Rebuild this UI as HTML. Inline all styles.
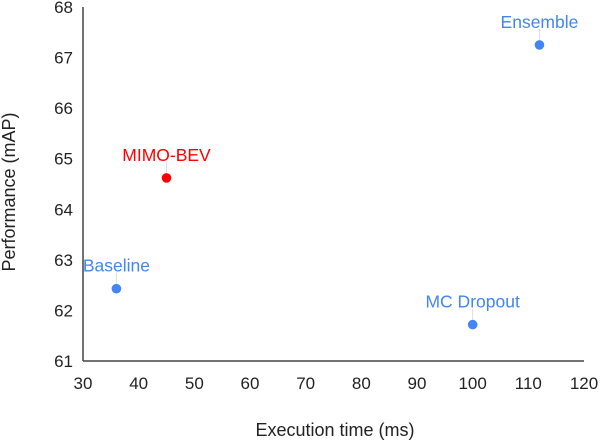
<!DOCTYPE html>
<html><head><meta charset="utf-8"><style>
body{margin:0;background:#fff;}
svg{font-family:"Liberation Sans",sans-serif;display:block;}
</style></head><body>
<svg id="chart" width="600" height="440"></svg>
<script>
const xTicks=[30,40,50,60,70,80,90,100,110,120];
const yTicks=[61,62,63,64,65,66,67,68];
const names=["Baseline","MIMO-BEV","MC Dropout","Ensemble"];
const timesMs=[36,45,100,112];
const mapValues=[62.43,64.62,61.72,67.25];
const colors=["#4285f4","#ff0000","#4285f4","#4285f4"];
const NS="http://www.w3.org/2000/svg";
const svg=document.getElementById('chart');
const X0=83,X1=584,Y0=361,Y1=7;
const xs=v=>X0+(v-30)/(120-30)*(X1-X0);
const ys=v=>Y0-(v-61)/(68-61)*(Y0-Y1);
function mk(tag,attrs,text){const e=document.createElementNS(NS,tag);for(const k in attrs)e.setAttribute(k,attrs[k]);if(text!==undefined)e.textContent=text;svg.appendChild(e);return e;}
let e;
e=mk('line',{x1:X0,y1:Y1,x2:X0,y2:Y0,stroke:'#444','stroke-width':1.5});


e=mk('line',{x1:X0,y1:Y0,x2:X1,y2:Y0,stroke:'#444','stroke-width':1.5});


xTicks.forEach(t=>{e=mk('text',{x:xs(t),y:389,'text-anchor':'middle','font-size':17,fill:'#222'},t);

});
yTicks.forEach(t=>{e=mk('text',{x:73,y:ys(t)+6,'text-anchor':'end','font-size':17,fill:'#222'},t);

});
e=mk('text',{x:335,y:436,'text-anchor':'middle','font-size':18,fill:'#222'},'Execution time (ms)');


e=mk('text',{x:0,y:0,'text-anchor':'middle','font-size':18,fill:'#222',transform:'translate(15,192) rotate(-90)'},'Performance (mAP)');


names.forEach((n,i)=>{
 const cx=xs(timesMs[i]),cy=ys(mapValues[i]);
 e=mk('line',{x1:cx,y1:cy-5,x2:cx,y2:cy-16,stroke:'#ddd','stroke-width':1});
 
 
 e=mk('circle',{cx:cx,cy:cy,r:4.8,fill:colors[i]});
 
 
 e=mk('text',{x:cx,y:cy-17,'text-anchor':'middle','font-size':17.5,fill:colors[i]},n);
 
 
});
</script>
</body></html>
